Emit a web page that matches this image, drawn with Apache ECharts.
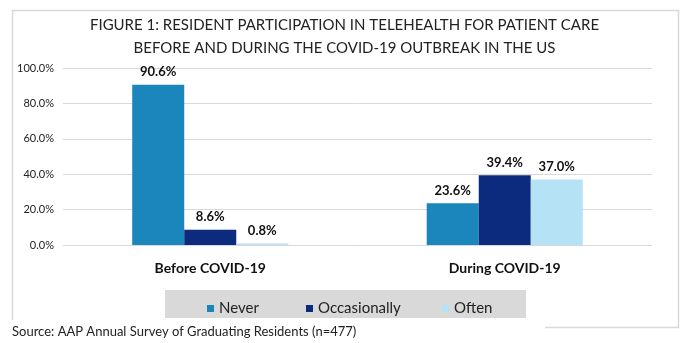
<!DOCTYPE html>
<html><head><meta charset="utf-8">
<script src="https://cdn.jsdelivr.net/npm/echarts@6/dist/echarts.min.js"></script>
<style>html,body{margin:0;padding:0;background:#fff}#c{width:689px;height:343px}</style>
</head><body><div id="c"></div>
<script>
const categories = ['Before COVID-19', 'During COVID-19'];
const seriesNames = ['Never', 'Occasionally', 'Often'];
const never = [90.6, 23.6];
const occasionally = [8.6, 39.4];
const often = [0.8, 37.0];
const yTicks = [0, 20, 40, 60, 80, 100];
const titleLines = ['FIGURE 1: RESIDENT PARTICIPATION IN TELEHEALTH FOR PATIENT CARE', 'BEFORE AND DURING THE COVID-19 OUTBREAK IN THE US'];
const sourceText = 'Source: AAP Annual Survey of Graduating Residents (n=477)';

const colors = ['#1B86BB', '#0C2A7E', '#B5E2F5'];
const FONT = 'Lato';
const chart = echarts.init(document.getElementById('c'));
const values = [never, occasionally, often];
const legendPos = [207, 306, 442];
chart.setOption({
  animation: false,
  textStyle: { fontFamily: FONT },
  graphic: [
    { type: 'rect', z: -10, shape: { x: 12.5, y: 10.5, width: 666, height: 317 }, style: { fill: '#fff', stroke: '#d9d9d9', lineWidth: 1.5 } },
    { type: 'rect', z: -9, shape: { x: 165, y: 290, width: 361, height: 28 }, style: { fill: '#d9d9d9' } },
    { type: 'rect', z: -8, shape: { x: 0, y: 320, width: 545, height: 23 }, style: { fill: '#fff' } },
    { type: 'text', left: 12, top: 325, style: { text: sourceText, font: '13px ' + FONT, fill: '#222' } },
    { type: 'text', left: 'center', top: 14, style: { text: titleLines.join('\n'), font: '15px ' + FONT, fill: '#222', textAlign: 'center', lineHeight: 23 } }
  ],
  legend: seriesNames.map((n, i) => ({
    data: [n], left: legendPos[i], top: 301, padding: 0, itemWidth: 7, itemHeight: 7, itemGap: 0,
    icon: 'rect', textStyle: { fontSize: 15, color: '#222' }
  })),
  grid: { left: 63, right: 37, top: 68, bottom: 98 },
  xAxis: {
    type: 'category', data: categories,
    axisLine: { show: false }, axisTick: { show: false },
    axisLabel: { fontSize: 14, fontWeight: 'bold', color: '#111', margin: 16 }
  },
  yAxis: {
    type: 'value', min: 0, max: 100, interval: 20,
    axisLabel: { formatter: v => yTicks.includes(v) ? v.toFixed(1) + '%' : '', fontSize: 11, color: '#222', margin: 9 },
    splitLine: { lineStyle: { color: '#d9d9d9' } },
    axisLine: { show: false }, axisTick: { show: false }
  },
  series: seriesNames.map((n, i) => ({
    name: n, type: 'bar', data: values[i], barGap: '0%', barCategoryGap: '47%',
    itemStyle: { color: colors[i] },
    label: { show: true, position: 'top', formatter: p => p.value.toFixed(1) + '%', fontSize: 13, fontWeight: 'bold', color: '#111', distance: 6 }
  }))
});
</script></body></html>
